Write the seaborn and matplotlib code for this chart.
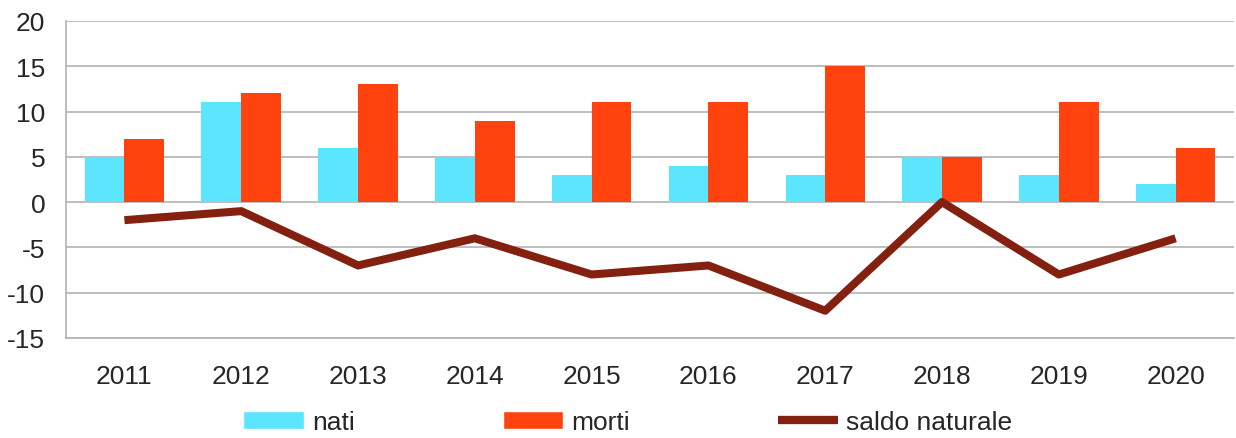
import numpy as np
import pandas as pd
import matplotlib.pyplot as plt
import seaborn as sns
from matplotlib.patches import Patch
from matplotlib.lines import Line2D

years = ['2011', '2012', '2013', '2014', '2015', '2016', '2017', '2018', '2019', '2020']
nati = [5, 11, 6, 5, 3, 4, 3, 5, 3, 2]
morti = [7, 12, 13, 9, 11, 11, 15, 5, 11, 6]
saldo = [-2, -1, -7, -4, -8, -7, -12, 0, -8, -4]

col_nati = '#5ce5ff'
col_morti = '#ff420e'
col_saldo = '#84200f'

sns.set_style('white')
plt.rcParams['font.family'] = ['Liberation Sans Narrow', 'Liberation Sans', 'DejaVu Sans']
plt.rcParams['axes.unicode_minus'] = False

df = pd.DataFrame({'anno': years * 2,
                   'valore': nati + morti,
                   'serie': ['nati'] * len(years) + ['morti'] * len(years)})

fig = plt.figure(figsize=(12.36, 4.39), dpi=100)
ax = fig.add_axes([0.0534, 0.228, 0.945, 0.722])

sns.barplot(data=df, x='anno', y='valore', hue='serie', order=years,
            palette={'nati': col_nati, 'morti': col_morti},
            width=0.68, gap=0, saturation=1, linewidth=0, legend=False, ax=ax, zorder=3)
sns.lineplot(x=np.arange(len(years)), y=saldo, color=col_saldo, linewidth=5.8,
             ax=ax, zorder=4)
ax.lines[-1].set_solid_capstyle('butt')

ax.set_ylim(-15, 20)
ax.set_yticks(range(-15, 21, 5))
ax.set_xlim(-0.5, len(years) - 0.5)
ax.set_xlabel('')
ax.set_ylabel('')
ax.yaxis.grid(True, color='#b3b3b3', linewidth=1.2)
ax.set_axisbelow(True)
for s in ['top', 'right']:
    ax.spines[s].set_visible(False)
ax.spines['left'].set_color('#b3b3b3')
ax.spines['bottom'].set_color('#b3b3b3')
ax.spines['left'].set_linewidth(1.2)
ax.spines['bottom'].set_linewidth(1.2)
ax.set_xticks(np.arange(-0.5, len(years), 1), minor=True)
ax.tick_params(axis='x', which='major', length=0, pad=19, labelsize=19)
ax.tick_params(axis='x', which='minor', length=11, color='#b3b3b3', width=1.2)
ax.tick_params(axis='y', length=10, color='#b3b3b3', width=1.2, labelsize=19, pad=5)

handles = [Patch(facecolor=col_nati), Patch(facecolor=col_morti),
           Line2D([], [], color=col_saldo, linewidth=6, solid_capstyle='butt')]
fig.legend(handles, ['nati', 'morti', 'saldo naturale'], loc='lower center',
           bbox_to_anchor=(0.508, -0.028), ncol=3, frameon=False, fontsize=19,
           borderpad=0.1, handlelength=2.3, handleheight=0.7, handletextpad=0.3,
           columnspacing=5.6)

fig.savefig('out.png', dpi=100)
